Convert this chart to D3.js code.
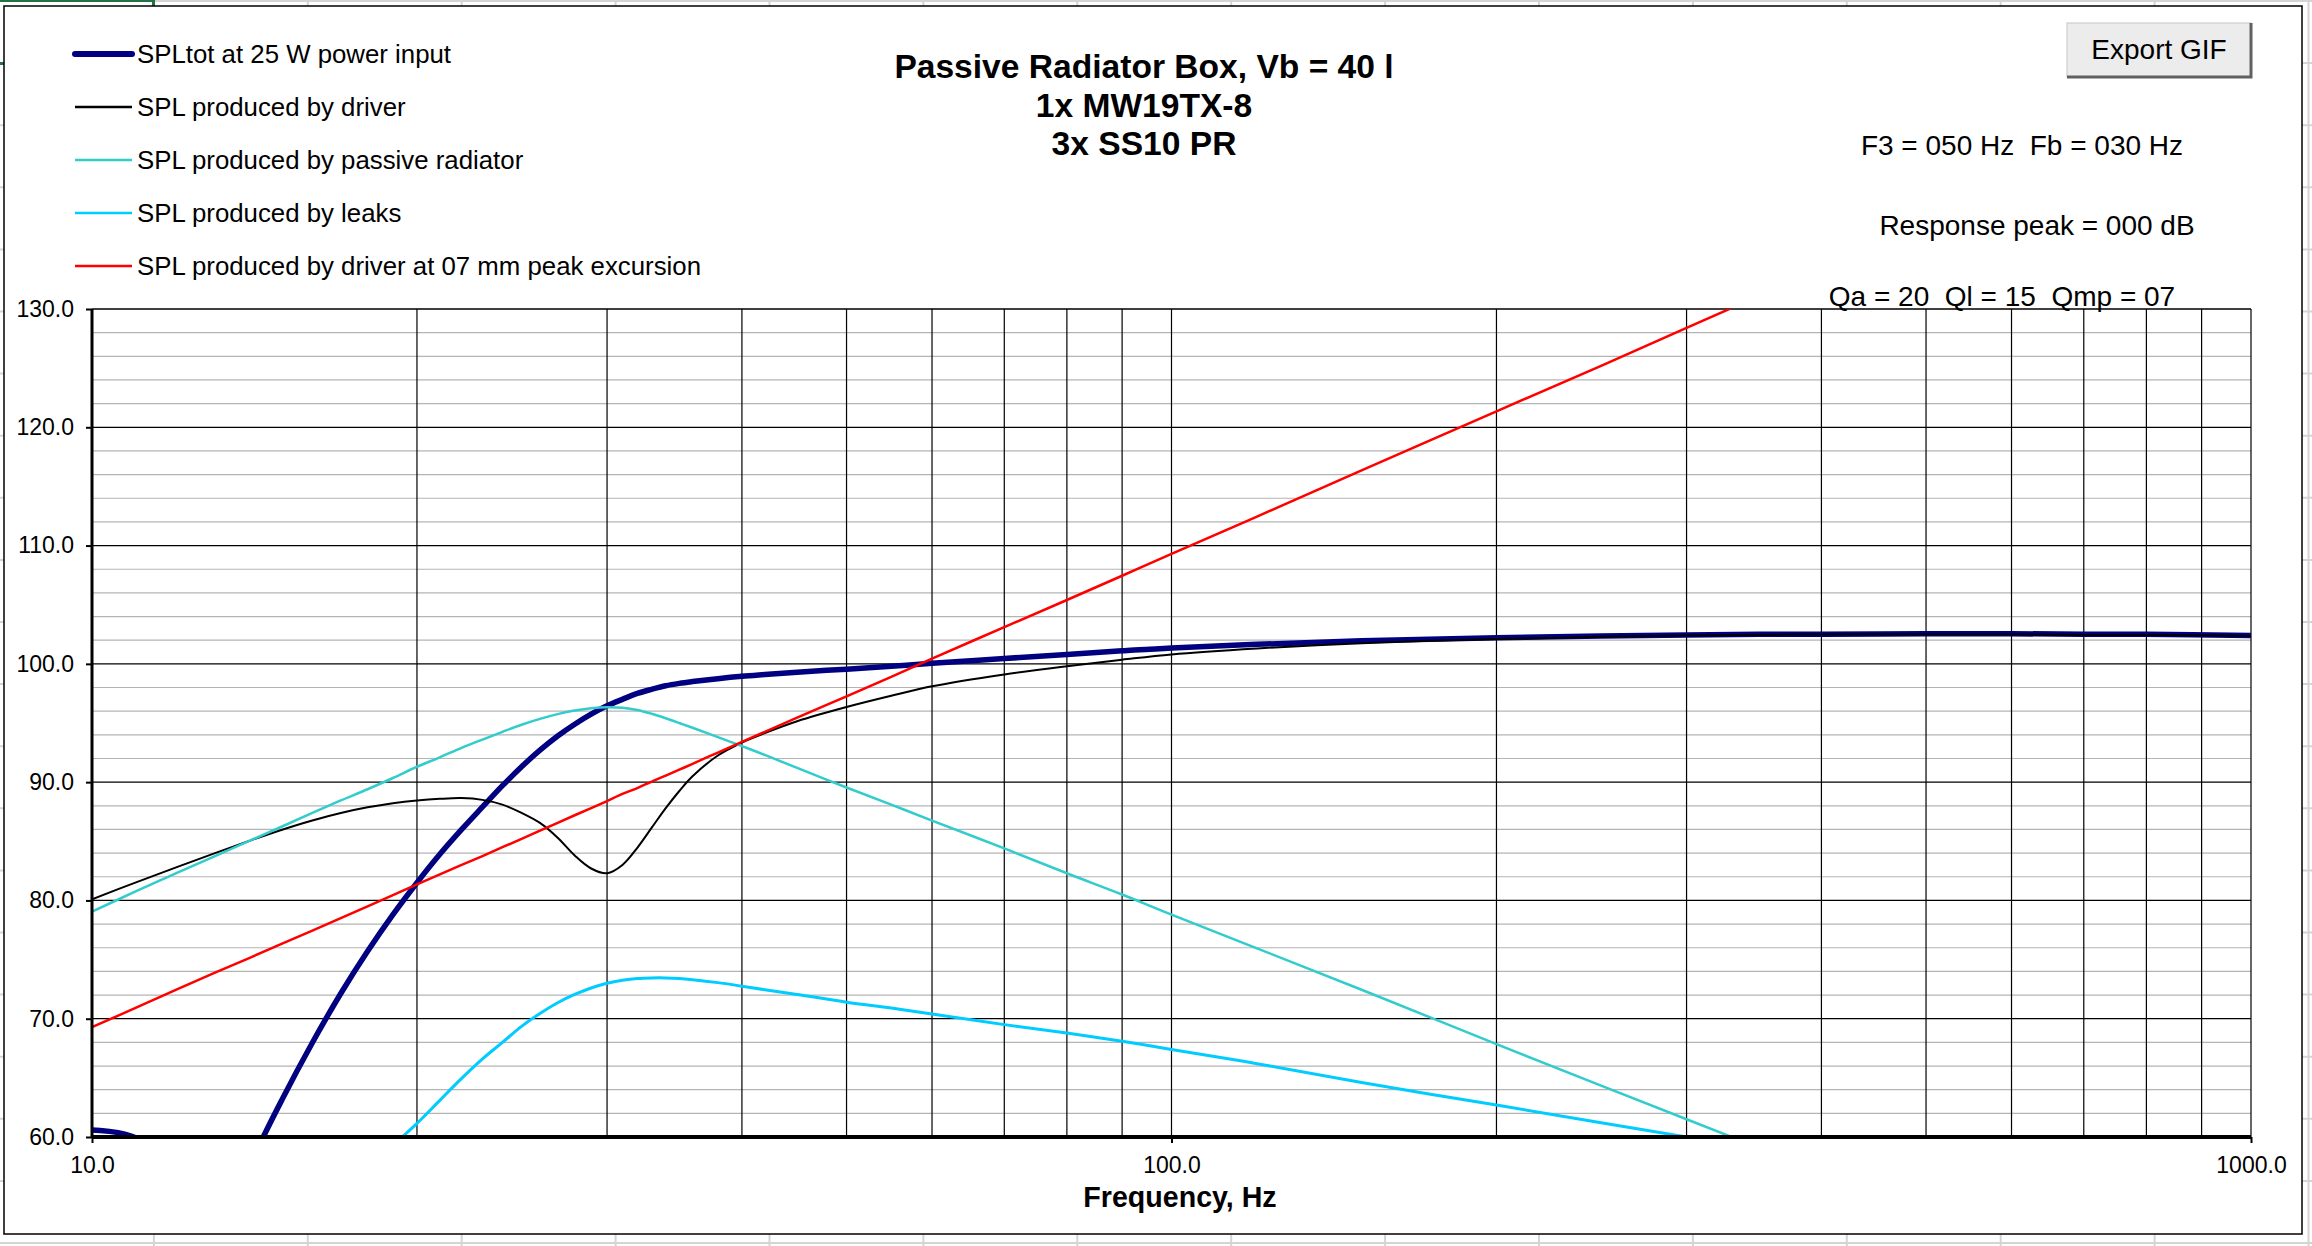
<!DOCTYPE html>
<html>
<head>
<meta charset="utf-8">
<script src="https://cdn.jsdelivr.net/npm/d3@7"></script>
<style>
	body { margin: 0; background: #fff; }
	svg { display: block; }
	text { font-family: 'Liberation Sans', Arial, Helvetica, sans-serif; fill: #000; }
</style>
</head>
<body>
<svg id="chart" width="2312" height="1246"></svg>
<script>
'use strict';

// frequency points, Hz
let freqs = [10, 11, 12, 13, 14, 15, 16, 17, 18, 19, 20, 21, 22, 23, 24, 25, 26, 27, 28, 29,
	30, 31, 32, 33, 34, 35, 36, 38, 40, 42, 45, 50, 55, 60, 70, 80, 90, 100, 120, 150,
	200, 250, 300, 350, 400, 500, 600, 700, 800, 1000];

// SPL values, dB
let splTot = [60.6, 59.9, 56.5, 50.5, 57.6, 63.17, 67.97, 72.13, 75.7, 78.8, 81.5, 83.9, 86.0, 87.9, 89.7, 91.3, 92.7, 93.9, 94.9, 95.75,
	96.45, 97.0, 97.5, 97.85, 98.15, 98.35, 98.5, 98.75, 98.95, 99.1, 99.3, 99.55, 99.8, 100.05, 100.45, 100.8, 101.1, 101.35, 101.65, 101.95,
	102.2, 102.35, 102.45, 102.5, 102.5, 102.55, 102.55, 102.5, 102.5, 102.4];

let splDriver = [80.1, 81.55, 82.84, 84.0, 85.05, 85.98, 86.76, 87.39, 87.87, 88.22, 88.45, 88.59, 88.65, 88.5, 88.1, 87.4, 86.55, 85.3, 83.8, 82.7,
	82.3, 83.0, 84.45, 86.15, 87.8, 89.25, 90.5, 92.25, 93.35, 94.15, 95.15, 96.35, 97.3, 98.1, 99.1, 99.8, 100.35, 100.8, 101.3, 101.75,
	102.1, 102.3, 102.4, 102.45, 102.5, 102.5, 102.5, 102.45, 102.45, 102.35];

let splPassive = [79.05, 80.8, 82.35, 83.75, 85.05, 86.25, 87.4, 88.45, 89.4, 90.35, 91.3, 92.1, 92.9, 93.6, 94.25, 94.85, 95.35, 95.75, 96.05, 96.25,
	96.33, 96.28, 96.1, 95.78, 95.4, 95.0, 94.6, 93.8, 93.05, 92.3, 91.2, 89.55, 88.1, 86.75, 84.4, 82.3, 80.5, 78.8, 75.95, 72.45,
	67.85, 64.35, 61.5, 59.1, 57.0, 53.5, 50.7, 48.3, 46.2, 42.7];

let splLeaks = [32.0, 36.0, 39.0, 43.0, 46.0, 49.0, 52.0, 54.5, 57.0, 59.25, 61.15, 63.1, 64.95, 66.6, 68.0, 69.35, 70.45, 71.35, 72.05, 72.6,
	73.0, 73.25, 73.4, 73.45, 73.45, 73.4, 73.3, 73.05, 72.75, 72.45, 72.05, 71.4, 70.9, 70.4, 69.5, 68.8, 68.1, 67.4, 66.2, 64.6,
	62.7, 61.2, 60.0, 59.0, 58.1, 56.6, 55.4, 54.3, 53.4, 51.9];

let splExcursion = [69.3, 70.95, 72.5, 73.9, 75.15, 76.35, 77.45, 78.5, 79.5, 80.45, 81.35, 82.2, 83.0, 83.75, 84.5, 85.2, 85.9, 86.55, 87.2, 87.8,
	88.4, 89.0, 89.5, 90.05, 90.55, 91.05, 91.55, 92.5, 93.4, 94.25, 95.45, 97.25, 98.9, 100.45, 103.1, 105.4, 107.45, 109.3, 112.45, 116.35,
	121.35, 125.2, 128.4, 131.1, 133.4, 137.3, 140.5, 143.2, 145.5, 149.3];

let seriesNames = [
	'SPLtot at 25 W power input',
	'SPL produced by driver',
	'SPL produced by passive radiator',
	'SPL produced by leaks',
	'SPL produced by driver at 07 mm peak excursion'
];
let seriesColors = ['#000080', '#000000', '#33cccc', '#00ccff', '#ff0000'];
let seriesWidths = [5.5, 2, 2.5, 3, 2.5];
let seriesValues = [splTot, splDriver, splPassive, splLeaks, splExcursion];

let yTicks = [60, 70, 80, 90, 100, 110, 120, 130];
let yMinor = d3.range(60, 131, 2);
let xTicks = [10, 100, 1000];
let xGrid = [20, 30, 40, 50, 60, 70, 80, 90, 100, 200, 300, 400, 500, 600, 700, 800, 900, 1000];

let titleLines = ['Passive Radiator Box, Vb = 40 l', '1x MW19TX-8', '3x SS10 PR'];
let infoF3 = 'F3 = 050 Hz  Fb = 030 Hz';
let infoPeak = 'Response peak = 000 dB';
let infoQ = 'Qa = 20  Ql = 15  Qmp = 07';

let svg = d3.select('#chart');
let W = 2312, H = 1246;

// spreadsheet cells behind the chart
let sheet = svg.append('g');
d3.range(1, 16).forEach(k => {
	sheet.append('line')
		.attr('x1', k * 153.9).attr('x2', k * 153.9)
		.attr('y1', 0).attr('y2', H)
		.attr('stroke', '#d4d4d4').attr('stroke-width', 2);
});
d3.range(0, 21).forEach(k => {
	sheet.append('line')
		.attr('x1', 0).attr('x2', W)
		.attr('y1', 1 + k * 62.1).attr('y2', 1 + k * 62.1)
		.attr('stroke', '#d4d4d4').attr('stroke-width', 2);
});
sheet.append('rect')
	.attr('x', -2).attr('y', 0.5)
	.attr('width', 155.5).attr('height', 63)
	.attr('fill', 'none')
	.attr('stroke', '#217346')
	.attr('stroke-width', 3);

// chart area
svg.append('rect')
	.attr('x', 4).attr('y', 6)
	.attr('width', 2298).attr('height', 1228)
	.attr('fill', '#fff')
	.attr('stroke', '#000')
	.attr('stroke-width', 1.5);

let plot = {left: 92, right: 2251, top: 309, bottom: 1137};

let x = d3.scaleLog()
	.domain([10, 1000])
	.range([plot.left, plot.right]);

let y = d3.scaleLinear()
	.domain([60, 130])
	.range([plot.bottom, plot.top]);

let grid = svg.append('g');

grid.selectAll('line.minor')
	.data(yMinor.filter(v => v % 10 !== 0))
	.enter().append('line')
	.attr('class', 'minor')
	.attr('x1', plot.left).attr('x2', plot.right)
	.attr('y1', d => y(d)).attr('y2', d => y(d))
	.attr('stroke', '#b4b4b4')
	.attr('stroke-width', 1.2);

grid.selectAll('line.vgrid')
	.data(xGrid)
	.enter().append('line')
	.attr('class', 'vgrid')
	.attr('x1', d => x(d)).attr('x2', d => x(d))
	.attr('y1', plot.top).attr('y2', plot.bottom)
	.attr('stroke', '#000')
	.attr('stroke-width', 1.2);

grid.selectAll('line.major')
	.data(yTicks.slice(1))
	.enter().append('line')
	.attr('class', 'major')
	.attr('x1', plot.left).attr('x2', plot.right)
	.attr('y1', d => y(d)).attr('y2', d => y(d))
	.attr('stroke', '#000')
	.attr('stroke-width', 1.3);

svg.append('clipPath')
	.attr('id', 'plotClip')
	.append('rect')
	.attr('x', plot.left).attr('y', plot.top)
	.attr('width', plot.right - plot.left)
	.attr('height', plot.bottom - plot.top);

let line = d3.line()
	.x(d => x(d[0]))
	.y(d => y(d[1]))
	.curve(d3.curveCatmullRom.alpha(0.5));

let curves = svg.append('g').attr('clip-path', 'url(#plotClip)');

seriesValues.forEach((vals, i) => {
	curves.append('path')
		.datum(freqs.map((f, j) => [f, vals[j]]))
		.attr('d', line)
		.attr('fill', 'none')
		.attr('stroke', seriesColors[i])
		.attr('stroke-width', seriesWidths[i])
		.attr('stroke-linejoin', 'round');
});

// axes
let yAxis = svg.append('g')
	.attr('transform', `translate(${plot.left},0)`)
	.call(d3.axisLeft(y).tickValues(yTicks).tickSize(6).tickPadding(12).tickFormat(d3.format('.1f')));

let xAxis = svg.append('g')
	.attr('transform', `translate(0,${plot.bottom})`)
	.call(d3.axisBottom(x).tickValues(xTicks).tickSize(6).tickPadding(14).tickFormat(d3.format('.1f')));

[yAxis, xAxis].forEach(ax => {
	ax.selectAll('text')
		.style('font-size', '23px')
		.style('font-family', "'Liberation Sans', Arial, sans-serif")
		.attr('fill', '#000');
	ax.selectAll('.tick line').attr('stroke', '#000').attr('stroke-width', 2);
});
yAxis.select('.domain').attr('stroke', '#000').attr('stroke-width', 3).attr('d', `M0,${plot.top}V${plot.bottom}`);
xAxis.select('.domain').attr('stroke', '#000').attr('stroke-width', 4).attr('d', `M${plot.left},0H${plot.right}`);

svg.append('text')
	.attr('x', 1180)
	.attr('y', 1207)
	.attr('text-anchor', 'middle')
	.style('font-size', '28.6px')
	.style('font-weight', 'bold')
	.text('Frequency, Hz');

// title
svg.selectAll('text.title')
	.data(titleLines)
	.enter().append('text')
	.attr('class', 'title')
	.attr('x', 1144)
	.attr('y', (d, i) => 78 + i * 38.5)
	.attr('text-anchor', 'middle')
	.style('font-size', '33.6px')
	.style('font-weight', 'bold')
	.text(d => d);

// legend
let legend = svg.append('g');
seriesNames.forEach((name, i) => {
	let cy = 54 + i * 53;
	legend.append('line')
		.attr('x1', 75).attr('x2', 132)
		.attr('y1', cy).attr('y2', cy)
		.attr('stroke', seriesColors[i])
		.attr('stroke-width', i === 0 ? 6 : 2.5)
		.attr('stroke-linecap', i === 0 ? 'round' : 'butt');
	legend.append('text')
		.attr('x', 137)
		.attr('y', cy + 9)
		.style('font-size', '25.8px')
		.text(name);
});

// info texts on the right
[[infoF3, 2022, 155], [infoPeak, 2037, 235], [infoQ, 2002, 306]].forEach(t => {
	svg.append('text')
		.attr('x', t[1]).attr('y', t[2])
		.attr('text-anchor', 'middle')
		.style('font-size', '28px')
		.style('white-space', 'pre')
		.text(t[0]);
});

// export button
let btn = svg.append('g');
btn.append('rect')
	.attr('x', 2067).attr('y', 23)
	.attr('width', 184).attr('height', 54)
	.attr('fill', '#ececec')
	.attr('stroke', '#c6c6c6')
	.attr('stroke-width', 1);
btn.append('path')
	.attr('d', 'M2251,23V77H2067')
	.attr('fill', 'none')
	.attr('stroke', '#606060')
	.attr('stroke-width', 3);
btn.append('text')
	.attr('x', 2159).attr('y', 59)
	.attr('text-anchor', 'middle')
	.style('font-size', '28px')
	.text('Export GIF');
</script>
</body>
</html>
